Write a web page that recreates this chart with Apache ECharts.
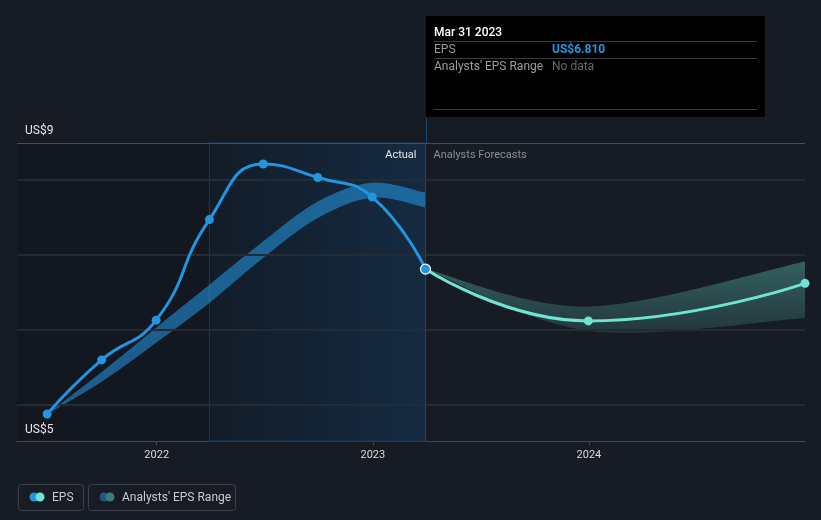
<!DOCTYPE html>
<html><head><meta charset="utf-8">
<script src="https://cdn.jsdelivr.net/npm/echarts@6/dist/echarts.min.js"></script>
<style>html,body{margin:0;padding:0;background:#161b24;}#c{width:821px;height:520px;}</style>
</head><body><div id="c"></div>
<script>
// ---- data ----
const actualDates = ['2021-06-30','2021-09-30','2021-12-31','2022-03-31','2022-06-30','2022-09-30','2022-12-31','2023-03-31'];
const actualEps   = [4.88, 5.60, 6.13, 7.47, 8.21, 8.03, 7.77, 6.81];
const pastRangeLow  = [4.88, 5.31, 5.83, 6.36, 6.96, 7.49, 7.76, 7.63];
const pastRangeHigh = [4.88, 5.44, 6.03, 6.60, 7.18, 7.71, 7.96, 7.83];
const forecastDates = ['2023-03-31','2023-12-31','2024-12-31'];
const forecastEps   = [6.81, 6.12, 6.62];
const forecastLow   = [6.81, 5.99, 6.16];
const forecastHigh  = [6.81, 6.31, 6.91];
const gridValues = [5, 6, 7, 8];
const yTopLabel = 'US$9', yBottomLabel = 'US$5';
const xMin = '2021-05-10', xMax = '2024-12-31';
const yMin = 4.52, yMax = 8.49;
const actualStart = '2022-03-31', nowDate = '2023-03-31';

const pair = (d, v) => d.map((x, i) => [x, v[i]]);
const tp = d => +echarts.time.parse(d);

const blue = '#2394df', teal = '#6ee5d3';
const FONT = 'Roboto, "Noto Sans", sans-serif';

// Catmull-Rom curve through points -> bezier path commands (without initial M)
function curve(pts) {
  let s = '';
  for (let i = 0; i < pts.length - 1; i++) {
    const p0 = pts[i - 1] || pts[i], p1 = pts[i], p2 = pts[i + 1], p3 = pts[i + 2] || pts[i + 1];
    const c1 = [p1[0] + (p2[0] - p0[0]) / 6, p1[1] + (p2[1] - p0[1]) / 6];
    const c2 = [p2[0] - (p3[0] - p1[0]) / 6, p2[1] - (p3[1] - p1[1]) / 6];
    s += ' C' + c1[0] + ',' + c1[1] + ' ' + c2[0] + ',' + c2[1] + ' ' + p2[0] + ',' + p2[1];
  }
  return s;
}
function bandRenderer(dates, lo, hi, fill) {
  return function (params, api) {
    if (params.dataIndex !== 0) return;
    const up = dates.map((d, i) => api.coord([tp(d), hi[i]]));
    const dn = dates.map((d, i) => api.coord([tp(d), lo[i]])).reverse();
    const path = 'M' + up[0][0] + ',' + up[0][1] + curve(up) + ' L' + dn[0][0] + ',' + dn[0][1] + curve(dn) + ' Z';
    return {type: 'path', shape: {pathData: path}, style: {fill: fill, stroke: null}, silent: true};
  };
}

const chart = echarts.init(document.getElementById('c'), null, {renderer: 'canvas'});
chart.setOption({
  backgroundColor: '#161b24',
  animation: false,
  textStyle: {fontFamily: FONT},
  grid: {left: 17, right: 16, top: 143, bottom: 79},
  xAxis: {
    type: 'time', min: xMin, max: xMax, splitNumber: 3,
    axisLine: {lineStyle: {color: '#454b55', width: 1}},
    axisTick: {show: true, length: 4, lineStyle: {color: '#454b55'}},
    axisLabel: {formatter: '{yyyy}', color: '#d9dbde', fontSize: 11, margin: 9, showMinLabel: false, showMaxLabel: false, fontFamily: FONT},
    splitLine: {show: false}
  },
  yAxis: {
    type: 'value', min: yMin, max: yMax,
    axisLine: {show: false}, axisTick: {show: false}, axisLabel: {show: false}, splitLine: {show: false}
  },
  series: [
    { // backgrounds, grid lines, labels
      type: 'line', data: [], silent: true,
      markArea: {
        silent: true,
        label: {show: false},
        data: [
          [{xAxis: xMin, itemStyle: {color: '#13171f'}}, {xAxis: actualStart}],
          [{xAxis: actualStart, itemStyle: {
              color: new echarts.graphic.LinearGradient(0, 0, 1, 0, [{offset: 0, color: '#121c28'}, {offset: 1, color: '#152b42'}]),
              borderColor: '#1d3650', borderWidth: 1}},
           {xAxis: nowDate}]
        ]
      },
      markLine: {
        silent: true, symbol: 'none',
        label: {show: false},
        data: gridValues.map(v => ({yAxis: v, lineStyle: {color: '#252b34', width: 2, type: 'solid'}}))
          .concat([
            {yAxis: yMax, lineStyle: {color: '#474c55', width: 1, type: 'solid'},
             label: {show: true, position: 'insideStartTop', formatter: yTopLabel, color: '#e6e8ea', fontSize: 12, distance: [8, 6], fontFamily: FONT}},
            {yAxis: yMin, lineStyle: {color: 'rgba(0,0,0,0)', width: 1},
             label: {show: true, position: 'insideStartTop', formatter: yBottomLabel, color: '#e6e8ea', fontSize: 12, distance: [8, 5], fontFamily: FONT}},
            {xAxis: nowDate, lineStyle: {color: '#1f4466', width: 1, type: 'solid'}}
          ])
      }
    },
    { // past analysts' range band
      type: 'custom', clip: true, silent: true, z: 3,
      data: actualDates.map((d, i) => [d, pastRangeLow[i], pastRangeHigh[i]]),
      encode: {x: 0, y: [1, 2]},
      renderItem: bandRenderer(actualDates, pastRangeLow, pastRangeHigh, 'rgba(35,148,223,0.58)')
    },
    { // forecast analysts' range band
      type: 'custom', clip: true, silent: true, z: 3,
      data: forecastDates.map((d, i) => [d, forecastLow[i], forecastHigh[i]]),
      encode: {x: 0, y: [1, 2]},
      renderItem: bandRenderer(forecastDates, forecastLow, forecastHigh,
        new echarts.graphic.LinearGradient(0, 0, 0, 1, [{offset: 0, color: 'rgba(110,229,211,0.34)'}, {offset: 1, color: 'rgba(110,229,211,0.14)'}]))
    },
    { // forecast EPS
      type: 'line', data: pair(forecastDates, forecastEps), smooth: 0.5,
      symbol: 'circle', symbolSize: 9, showSymbol: true,
      lineStyle: {color: teal, width: 3}, itemStyle: {color: teal},
      z: 5
    },
    { // actual EPS
      type: 'line', data: pair(actualDates, actualEps).map((p, i, a) => i === a.length - 1
        ? {value: p, symbolSize: 10, itemStyle: {color: blue, borderColor: '#ffffff', borderWidth: 1.2}} : p),
      smooth: 0.5, symbol: 'circle', symbolSize: 9,
      lineStyle: {color: blue, width: 3}, itemStyle: {color: blue},
      z: 6
    }
  ],
  graphic: [
    {type: 'line', shape: {x1: 426.5, y1: 117, x2: 426.5, y2: 143}, style: {stroke: '#1f4466', lineWidth: 1}, silent: true},
    {type: 'group', left: 426, top: 16, children: [
      {type: 'rect', shape: {x: 0, y: 0, width: 339, height: 101}, style: {fill: '#000000'}},
      {type: 'text', x: 8, y: 16.5, style: {text: 'Mar 31 2023', fill: '#ffffff', font: '500 12px ' + FONT, verticalAlign: 'middle'}},
      {type: 'line', shape: {x1: 8, y1: 25.5, x2: 331, y2: 25.5}, style: {stroke: '#3a3a3a', lineWidth: 1}},
      {type: 'text', x: 8, y: 34, style: {text: 'EPS', fill: '#9a9da2', font: '12px ' + FONT, verticalAlign: 'middle'}},
      {type: 'text', x: 126, y: 34, style: {text: 'US$6.810', fill: blue, font: 'bold 12px ' + FONT, verticalAlign: 'middle'}},
      {type: 'line', shape: {x1: 8, y1: 42.5, x2: 331, y2: 42.5}, style: {stroke: '#3a3a3a', lineWidth: 1}},
      {type: 'text', x: 8, y: 51, style: {text: "Analysts' EPS Range", fill: '#9a9da2', font: '12px ' + FONT, verticalAlign: 'middle'}},
      {type: 'text', x: 126, y: 51, style: {text: 'No data', fill: '#65686d', font: '12px ' + FONT, verticalAlign: 'middle'}},
      {type: 'line', shape: {x1: 8, y1: 93.5, x2: 331, y2: 93.5}, style: {stroke: '#3a3a3a', lineWidth: 1}}
    ]},
    {type: 'group', left: 16, top: 482, children: [
      {type: 'rect', shape: {x: 0.5, y: 0.5, width: 65, height: 26, r: 3}, style: {fill: 'none', stroke: '#3b404a', lineWidth: 1}},
      {type: 'circle', shape: {cx: 16, cy: 13, r: 4.5}, style: {fill: blue}},
      {type: 'circle', shape: {cx: 22, cy: 13, r: 4.5}, style: {fill: teal}},
      {type: 'text', x: 34, y: 13.5, style: {text: 'EPS', fill: '#c9cbce', font: '12px ' + FONT, verticalAlign: 'middle'}},
      {type: 'rect', shape: {x: 70.5, y: 0.5, width: 147, height: 26, r: 3}, style: {fill: 'none', stroke: '#3b404a', lineWidth: 1}},
      {type: 'circle', shape: {cx: 86, cy: 13, r: 4.5}, style: {fill: '#1f5888'}},
      {type: 'circle', shape: {cx: 92, cy: 13, r: 4.5}, style: {fill: '#3b7c78'}},
      {type: 'text', x: 104, y: 13.5, style: {text: "Analysts' EPS Range", fill: '#c9cbce', font: '12px ' + FONT, verticalAlign: 'middle'}}
    ]}
  ]
});
// region labels placed at the 'now' boundary through the chart's own scale
const nowPx = chart.convertToPixel({gridIndex: 0}, [tp(nowDate), yMax]);
chart.setOption({graphic: [
  {id: 'actLabel', type: 'text', x: nowPx[0] - 9, y: nowPx[1] + 12, z: 10,
   style: {text: 'Actual', fill: '#e6e8ea', font: '11px ' + FONT, align: 'right', verticalAlign: 'middle'}, silent: true},
  {id: 'fcLabel', type: 'text', x: nowPx[0] + 8, y: nowPx[1] + 12, z: 10,
   style: {text: 'Analysts Forecasts', fill: '#8b9097', font: '11px ' + FONT, verticalAlign: 'middle'}, silent: true}
]});
</script>
</body></html>
